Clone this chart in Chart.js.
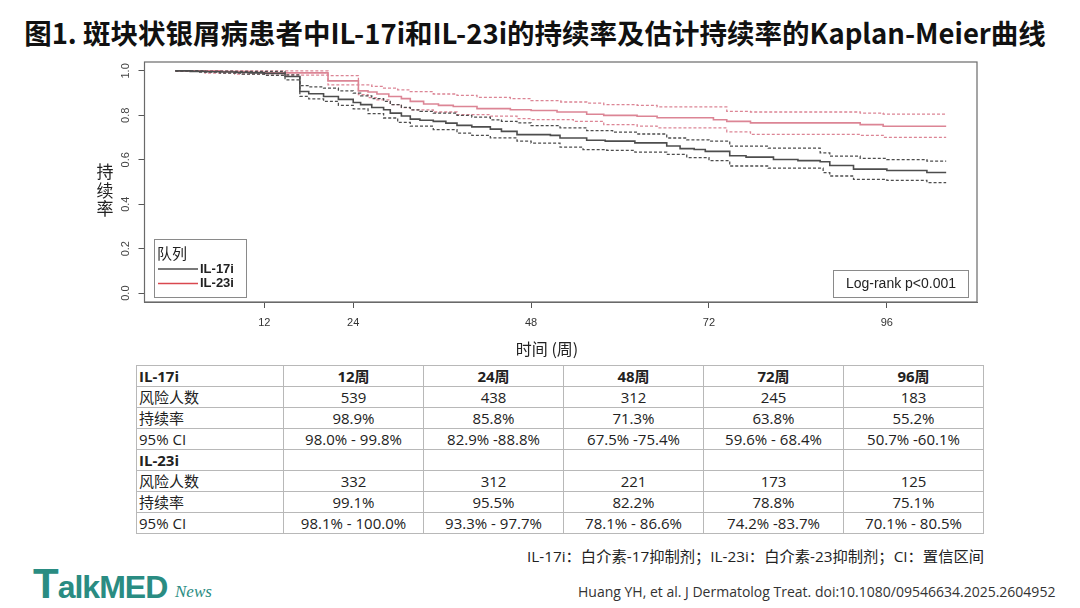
<!DOCTYPE html>
<html><head><meta charset="utf-8">
<script src="https://cdn.jsdelivr.net/npm/chart.js@4.4.1/dist/chart.umd.min.js"></script>
<style>
body{margin:0;width:1080px;height:608px;background:#fff;position:relative;overflow:hidden;font-family:"Open Sans","Noto Sans CJK SC",sans-serif;}
#title{position:absolute;left:-5px;top:16px;width:1080px;text-align:center;font-weight:bold;font-size:27.5px;line-height:33px;font-family:"Noto Sans CJK SC",sans-serif;color:#111;white-space:nowrap;}
#wrap{position:absolute;left:0;top:0;width:1080px;height:365px;}
#ytitle{position:absolute;left:96px;top:162px;width:18px;font-size:17px;line-height:18.5px;font-family:"Noto Sans CJK SC";color:#222;text-align:center;}
#xtitle{position:absolute;left:495px;top:337px;width:104px;font-size:16px;line-height:22px;font-family:"Noto Sans CJK SC";color:#222;text-align:center;}
#tbl{position:absolute;left:136px;top:365px;border-collapse:collapse;table-layout:fixed;font-size:15px;color:#222;}
#tbl td{border:1px solid #b8b8b8;height:21px;padding:0 3px;line-height:20px;text-align:center;box-sizing:border-box;white-space:nowrap;}
#tbl td.first{text-align:left;padding-left:2px;}
#tbl tr.hdr td{font-weight:bold;}
#foot{position:absolute;left:527px;top:544px;font-size:15.3px;color:#222;white-space:nowrap;}
#cite{position:absolute;left:578px;top:582px;font-size:14px;color:#333;white-space:nowrap;}
#logo{position:absolute;left:33px;top:560px;color:#2a8c82;font-family:"Liberation Sans",Arial,sans-serif;font-weight:bold;white-space:nowrap;letter-spacing:-1px;}
#news{position:absolute;left:175px;top:582px;color:#2a8c82;font-family:"Liberation Serif",serif;font-style:italic;font-size:17px;}
</style></head>
<body>
<div id="title">图1. 斑块状银屑病患者中IL-17i和IL-23i的持续率及估计持续率的Kaplan-Meier曲线</div>
<div id="wrap"><canvas id="c" width="1080" height="365"></canvas></div>
<div id="ytitle">持<br>续<br>率</div>
<div id="xtitle">时间 (周)</div>
<table id="tbl"><colgroup><col style="width:147px"><col style="width:140px"><col style="width:140px"><col style="width:140px"><col style="width:140px"><col style="width:140px"></colgroup><tbody id="tb"></tbody></table>
<div id="foot">IL-17i：白介素-17抑制剂；IL-23i：白介素-23抑制剂；CI：置信区间</div>
<div id="cite">Huang YH, et al. J Dermatolog Treat. doi:10.1080/09546634.2025.2604952</div>
<div id="logo"><span style="font-size:42px">T</span><span style="font-size:32px">alkMED</span></div>
<div id="news">News</div>
<script>
// ---- axis ticks ----
const xTickValues = [12, 24, 48, 72, 96];
const xTickLabels = ['12', '24', '48', '72', '96'];
const yTickValues = [0, 0.2, 0.4, 0.6, 0.8, 1.0];

// ---- Kaplan-Meier curves (weeks, persistence) ----
const il17Weeks = [0, 2, 4, 6, 8, 10, 12, 14.8, 16.8, 18, 20, 22, 24, 25, 26.5, 28.1, 29, 30.5, 31.7, 33, 34.8, 36.5, 38, 40, 42.5, 44, 46.1, 50.6, 51.9, 55.5, 58, 62, 66.3, 68.1, 70, 71.5, 74.8, 77, 80.7, 84, 87, 88.3, 91.5, 96, 101.4, 104];
const il17Surv  = [1.0, 0.998, 0.996, 0.995, 0.993, 0.991, 0.989, 0.975, 0.907, 0.897, 0.885, 0.872, 0.858, 0.848, 0.835, 0.825, 0.810, 0.797, 0.783, 0.778, 0.773, 0.765, 0.755, 0.748, 0.738, 0.728, 0.713, 0.710, 0.698, 0.688, 0.684, 0.676, 0.662, 0.650, 0.646, 0.638, 0.618, 0.612, 0.601, 0.596, 0.591, 0.574, 0.558, 0.552, 0.543, 0.543];
const il17UpWeeks = [0, 4, 8, 12, 14.8, 16.8, 18, 20, 22, 24, 25, 26.5, 28.1, 29, 30.5, 31.7, 33, 34.8, 38, 40, 42.5, 44, 46.1, 48, 51.9, 55.5, 59, 62.3, 66.3, 69, 72, 74.8, 80, 87, 88.3, 92.4, 96, 101.4, 104];
const il17Up      = [1.0, 0.999, 0.998, 0.998, 0.982, 0.934, 0.928, 0.922, 0.910, 0.900, 0.888, 0.875, 0.863, 0.848, 0.836, 0.825, 0.818, 0.810, 0.800, 0.792, 0.780, 0.773, 0.766, 0.754, 0.744, 0.731, 0.724, 0.716, 0.698, 0.690, 0.684, 0.661, 0.652, 0.631, 0.616, 0.606, 0.601, 0.594, 0.594];
const il17LoWeeks = [0, 3, 6, 9, 12, 14.8, 16.8, 18, 20, 22, 24, 26, 28.1, 30, 31.7, 34.8, 38, 40, 42.5, 46.1, 48, 51.9, 55, 58.2, 62, 66.3, 69, 72, 74.8, 80, 87.4, 88.3, 91.5, 96, 101.4, 104];
const il17Lo      = [1.0, 0.994, 0.990, 0.985, 0.980, 0.960, 0.885, 0.874, 0.863, 0.845, 0.829, 0.808, 0.788, 0.768, 0.751, 0.736, 0.720, 0.710, 0.699, 0.684, 0.675, 0.657, 0.646, 0.642, 0.634, 0.624, 0.610, 0.596, 0.572, 0.562, 0.542, 0.527, 0.512, 0.507, 0.497, 0.497];

const il23Weeks = [0, 6, 10, 12, 20.6, 24.7, 26, 27.2, 28.8, 30.5, 31.7, 33.5, 35.5, 37.5, 40.7, 45.2, 48, 51.5, 55.5, 57.8, 62.3, 65, 72.6, 74.4, 77.6, 92.4, 95.5, 104];
const il23Surv  = [1.0, 0.997, 0.994, 0.991, 0.955, 0.910, 0.905, 0.896, 0.885, 0.875, 0.863, 0.851, 0.845, 0.840, 0.830, 0.825, 0.822, 0.815, 0.805, 0.800, 0.796, 0.789, 0.780, 0.773, 0.766, 0.758, 0.751, 0.751];
const il23UpWeeks = [0, 12, 20.6, 24.7, 26.5, 28.1, 30, 31.7, 34.8, 38, 40.7, 45.2, 48, 52, 55.5, 57.8, 62.3, 65, 74.4, 77.6, 92.4, 95.5, 104];
const il23Up      = [1.0, 1.0, 0.979, 0.937, 0.930, 0.922, 0.915, 0.907, 0.896, 0.890, 0.881, 0.875, 0.866, 0.860, 0.855, 0.848, 0.845, 0.838, 0.818, 0.815, 0.810, 0.805, 0.805];
const il23LoWeeks = [0, 4, 8, 12, 20.6, 24.7, 26, 27.2, 29, 30.5, 31.7, 34.8, 38, 42.5, 46.1, 48, 53.7, 57.8, 62.3, 65, 74.4, 77.6, 92.4, 95.5, 104];
const il23Lo      = [1.0, 0.990, 0.985, 0.981, 0.937, 0.893, 0.880, 0.870, 0.848, 0.835, 0.825, 0.815, 0.803, 0.796, 0.785, 0.781, 0.773, 0.758, 0.751, 0.744, 0.726, 0.714, 0.710, 0.701, 0.701];

const seriesNames = ['IL-17i', 'IL-23i'];
const legendTitle = '队列';
const logRankText = 'Log-rank p<0.001';

// ---- table ----
const tableCols = ['12周', '24周', '48周', '72周', '96周'];
const il17AtRisk = ['539', '438', '312', '245', '183'];
const il17Rate = ['98.9%', '85.8%', '71.3%', '63.8%', '55.2%'];
const il17CI = ['98.0% - 99.8%', '82.9% -88.8%', '67.5% -75.4%', '59.6% - 68.4%', '50.7% -60.1%'];
const il23AtRisk = ['332', '312', '221', '173', '125'];
const il23Rate = ['99.1%', '95.5%', '82.2%', '78.8%', '75.1%'];
const il23CI = ['98.1% - 100.0%', '93.3% - 97.7%', '78.1% - 86.6%', '74.2% -83.7%', '70.1% - 80.5%'];
const rowLabels = ['风险人数', '持续率', '95% CI'];

// build table
const tb = document.getElementById('tb');
function addRow(first, cells, cls) {
  const tr = document.createElement('tr');
  if (cls) tr.className = cls;
  const td0 = document.createElement('td'); td0.className = 'first'; td0.textContent = first; tr.appendChild(td0);
  cells.forEach(c => { const td = document.createElement('td'); td.textContent = c; tr.appendChild(td); });
  tb.appendChild(tr);
}
addRow(seriesNames[0], tableCols, 'hdr');
addRow(rowLabels[0], il17AtRisk); addRow(rowLabels[1], il17Rate); addRow(rowLabels[2], il17CI);
addRow(seriesNames[1], tableCols.map(() => ''), 'hdr');
addRow(rowLabels[0], il23AtRisk); addRow(rowLabels[1], il23Rate); addRow(rowLabels[2], il23CI);

// ---- chart ----
const BLACK = '#4d4d4d', RED = '#dc8595', REDLEG = '#d9484f';
const toXY = (w, v) => w.map((x, i) => ({ x: x, y: v[i] }));
function ds(w, v, color, dashed) {
  return { data: toXY(w, v), borderColor: color, borderWidth: dashed ? 1.3 : 1.6, borderDash: dashed ? [3, 2] : [],
           pointRadius: 0, stepped: 'before', fill: false, tension: 0 };
}
const narrow = "'Liberation Sans Narrow','Liberation Sans',Arial,sans-serif";

const overlay = {
  id: 'overlay',
  afterDraw(chart) {
    const ctx = chart.ctx, a = chart.chartArea;
    ctx.save();
    ctx.strokeStyle = '#6a6a6a'; ctx.lineWidth = 1.2;
    ctx.strokeRect(a.left, a.top, a.right - a.left, a.bottom - a.top);
    // legend box
    ctx.strokeStyle = '#8a8a8a'; ctx.lineWidth = 1;
    ctx.strokeRect(154.5, 239.5, 92, 58);
    ctx.fillStyle = '#222'; ctx.textBaseline = 'middle'; ctx.textAlign = 'left';
    ctx.font = "15px 'Noto Sans CJK SC'";
    ctx.fillText(legendTitle, 157, 253);
    const legCols = [BLACK, REDLEG];
    seriesNames.forEach((n, i) => {
      const y = 269 + i * 14.5;
      ctx.strokeStyle = legCols[i]; ctx.lineWidth = 1.6;
      ctx.beginPath(); ctx.moveTo(158, y); ctx.lineTo(198, y); ctx.stroke();
      ctx.fillStyle = '#222'; ctx.font = "bold 13px " + narrow;
      ctx.fillText(n, 200, y);
    });
    // log-rank box
    ctx.strokeStyle = '#8a8a8a'; ctx.lineWidth = 1;
    ctx.strokeRect(833.5, 270.5, 135, 27);
    ctx.fillStyle = '#222'; ctx.font = "14px " + narrow; ctx.textAlign = 'center';
    ctx.fillText(logRankText, 901, 284.5);
    ctx.restore();
  }
};

new Chart(document.getElementById('c'), {
  type: 'line',
  data: {
    datasets: [
      ds(il17UpWeeks, il17Up, BLACK, true),
      ds(il17LoWeeks, il17Lo, BLACK, true),
      ds(il17Weeks, il17Surv, BLACK, false),
      ds(il23UpWeeks, il23Up, RED, true),
      ds(il23LoWeeks, il23Lo, RED, true),
      ds(il23Weeks, il23Surv, RED, false)
    ]
  },
  options: {
    responsive: false, animation: false,
    layout: { padding: { left: 104.5, right: 103, top: 62, bottom: 33 } },
    plugins: { legend: { display: false }, tooltip: { enabled: false } },
    scales: {
      x: {
        type: 'linear', min: -4.16, max: 108.16,
        afterBuildTicks: s => { s.ticks = xTickValues.map(v => ({ value: v })); },
        afterFit: s => { s.height = 30; },
        grid: { display: true, drawOnChartArea: false, drawTicks: true, tickLength: 6, color: '#555' },
        border: { display: true, color: '#6a6a6a' },
        ticks: { autoSkip: false, maxRotation: 0, padding: 8, color: '#333', font: { family: narrow, size: 11 },
                 callback: v => xTickLabels[xTickValues.indexOf(v)] }
      },
      y: {
        type: 'linear', min: -0.04, max: 1.04,
        afterBuildTicks: s => { s.ticks = yTickValues.map(v => ({ value: v })); },
        afterFit: s => { s.width = 40; },
        grid: { display: true, drawOnChartArea: false, drawTicks: true, tickLength: 6, color: '#555' },
        border: { display: true, color: '#6a6a6a' },
        ticks: { minRotation: 90, maxRotation: 90, crossAlign: 'center', padding: 5, color: '#444',
                 font: { family: narrow, size: 11 }, callback: v => Number(v).toFixed(1) }
      }
    }
  },
  plugins: [overlay]
});
</script>
</body></html>
